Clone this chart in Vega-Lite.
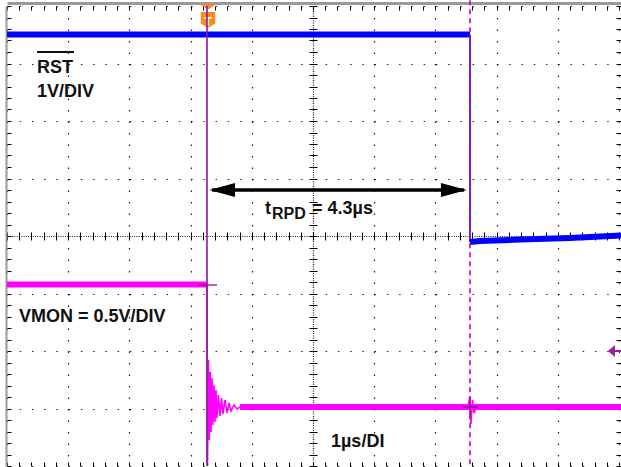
{
  "$schema": "https://vega.github.io/schema/vega-lite/v6.json",
  "width": 614,
  "height": 460,
  "autosize": {"type": "none"},
  "padding": {"left": 7, "top": 6, "right": 0, "bottom": 1},
  "background": "#ffffff",
  "config": {"view": {"stroke": null}, "font": "Liberation Sans"},
  "datasets": {
    "traces": [
      {"trace": "RST", "seg": "RST high", "t": 0, "v": 3.504},
      {"trace": "RST", "seg": "RST high", "t": 7.565, "v": 3.504},
      {"trace": "RST", "seg": "RST edge", "t": 7.565, "v": 3.504},
      {"trace": "RST", "seg": "RST edge", "t": 7.5651, "v": -0.104},
      {"trace": "RST", "seg": "RST low", "t": 7.565, "v": -0.104},
      {"trace": "RST", "seg": "RST low", "t": 7.729, "v": -0.087},
      {"trace": "RST", "seg": "RST low", "t": 8.382, "v": -0.061},
      {"trace": "RST", "seg": "RST low", "t": 9.199, "v": -0.035},
      {"trace": "RST", "seg": "RST low", "t": 10.033, "v": 0.009},
      {"trace": "VMON", "seg": "VMON high", "t": 0, "v": -0.843},
      {"trace": "VMON", "seg": "VMON high", "t": 3.268, "v": -0.843},
      {"trace": "VMON", "seg": "VMON ringing", "t": 3.268, "v": -0.843},
      {"trace": "VMON", "seg": "VMON ringing", "t": 3.276, "v": -4.07},
      {"trace": "VMON", "seg": "VMON ringing", "t": 3.292, "v": -2.157},
      {"trace": "VMON", "seg": "VMON ringing", "t": 3.305, "v": -3.548},
      {"trace": "VMON", "seg": "VMON ringing", "t": 3.32, "v": -2.365},
      {"trace": "VMON", "seg": "VMON ringing", "t": 3.333, "v": -3.409},
      {"trace": "VMON", "seg": "VMON ringing", "t": 3.35, "v": -2.47},
      {"trace": "VMON", "seg": "VMON ringing", "t": 3.366, "v": -3.287},
      {"trace": "VMON", "seg": "VMON ringing", "t": 3.382, "v": -2.591},
      {"trace": "VMON", "seg": "VMON ringing", "t": 3.399, "v": -3.235},
      {"trace": "VMON", "seg": "VMON ringing", "t": 3.415, "v": -2.678},
      {"trace": "VMON", "seg": "VMON ringing", "t": 3.431, "v": -3.165},
      {"trace": "VMON", "seg": "VMON ringing", "t": 3.456, "v": -2.765},
      {"trace": "VMON", "seg": "VMON ringing", "t": 3.48, "v": -3.13},
      {"trace": "VMON", "seg": "VMON ringing", "t": 3.505, "v": -2.817},
      {"trace": "VMON", "seg": "VMON ringing", "t": 3.529, "v": -3.096},
      {"trace": "VMON", "seg": "VMON ringing", "t": 3.562, "v": -2.852},
      {"trace": "VMON", "seg": "VMON ringing", "t": 3.595, "v": -3.078},
      {"trace": "VMON", "seg": "VMON ringing", "t": 3.627, "v": -2.904},
      {"trace": "VMON", "seg": "VMON ringing", "t": 3.66, "v": -3.043},
      {"trace": "VMON", "seg": "VMON ringing", "t": 3.709, "v": -2.939},
      {"trace": "VMON", "seg": "VMON ringing", "t": 3.758, "v": -3.009},
      {"trace": "VMON", "seg": "VMON ringing", "t": 3.807, "v": -2.974},
      {"trace": "VMON", "seg": "VMON low", "t": 3.807, "v": -2.974},
      {"trace": "VMON", "seg": "VMON low", "t": 10.033, "v": -2.974},
      {"trace": "VMON", "seg": "VMON glitch", "t": 7.533, "v": -2.974},
      {"trace": "VMON", "seg": "VMON glitch", "t": 7.565, "v": -2.783},
      {"trace": "VMON", "seg": "VMON glitch", "t": 7.582, "v": -3.27},
      {"trace": "VMON", "seg": "VMON glitch", "t": 7.606, "v": -2.852},
      {"trace": "VMON", "seg": "VMON glitch", "t": 7.631, "v": -3.078},
      {"trace": "VMON", "seg": "VMON glitch", "t": 7.68, "v": -2.939},
      {"trace": "VMON", "seg": "VMON glitch", "t": 7.729, "v": -2.974}
    ]
  },
  "resolve": {"axis": {"x": "independent", "y": "independent"}, "scale": {"shape": "independent"}},
  "layer": [
    {
      "data": {"name": "traces"},
      "transform": [{"filter": {"field": "seg", "oneOf": ["RST high", "RST low", "VMON high", "VMON low"]}}],
      "mark": {"type": "line", "strokeWidth": 6, "clip": true},
      "encoding": {
        "x": {"field": "t", "type": "quantitative", "scale": {"domain": [0, 10.033], "nice": false, "zero": false},
          "axis": {"orient": "bottom", "values": [0, 1, 2, 3, 4, 5, 6, 7, 8, 9, 10], "grid": true, "gridColor": "#000000", "gridWidth": 1.2, "gridOpacity": 0.9,
            "gridDash": {"condition": {"test": "datum.value === 5", "value": [1, 1.3]}, "value": [1.4, 10.1]},
            "ticks": false, "labels": false, "domain": false, "title": null}},
        "y": {"field": "v", "type": "quantitative", "scale": {"domain": [-4, 4], "nice": false, "zero": false},
          "axis": {"orient": "left", "values": [-4, -3, -2, -1, 0, 1, 2, 3, 4], "grid": true, "gridColor": "#000000", "gridWidth": 1.2, "gridOpacity": 0.9,
            "gridDash": {"condition": {"test": "datum.value === 0", "value": [1, 1.3]}, "value": [1.4, 10.84]},
            "ticks": false, "labels": false, "domain": false, "title": null}},
        "color": {"field": "trace", "type": "nominal", "scale": {"domain": ["RST", "VMON"], "range": ["#0000FF", "#FF00FF"]}, "legend": null},
        "detail": {"field": "seg"}
      }
    },
    {
      "data": {"name": "traces"},
      "transform": [{"filter": {"field": "seg", "oneOf": ["RST edge", "VMON ringing", "VMON glitch"]}}],
      "mark": {"type": "line", "strokeWidth": 1.6, "clip": true},
      "encoding": {
        "x": {"field": "t", "type": "quantitative", "scale": {"domain": [0, 10.033], "nice": false, "zero": false},
          "axis": {"orient": "bottom", "offset": -234, "tickCount": 50, "ticks": true, "tickSize": 8, "tickColor": "#000000", "tickWidth": 1, "grid": false, "labels": false, "domain": false, "title": null}},
        "y": {"field": "v", "type": "quantitative", "scale": {"domain": [-4, 4], "nice": false, "zero": false},
          "axis": {"orient": "left", "offset": -310, "tickCount": 40, "ticks": true, "tickSize": 8, "tickColor": "#000000", "tickWidth": 1, "grid": false, "labels": false, "domain": false, "title": null}},
        "color": {"field": "trace", "type": "nominal", "scale": {"domain": ["RST", "VMON"], "range": ["#0000FF", "#FF00FF"]}, "legend": null},
        "detail": {"field": "seg"}
      }
    },
    {
      "data": {"values": [{"name": "trigger body", "t": 3.284, "v": 3.757}, {"name": "trigger tip", "t": 3.284, "v": 3.99}]},
      "mark": {"type": "point", "filled": true, "opacity": 1, "size": 256, "color": "#FF8A1C", "strokeWidth": 0},
      "encoding": {
        "x": {"field": "t", "type": "quantitative", "scale": {"domain": [0, 10.033], "nice": false, "zero": false},
          "axis": {"orient": "bottom", "offset": -4, "tickCount": 50, "ticks": true, "tickSize": 4, "tickColor": "#000000", "tickWidth": 1, "grid": false, "labels": false, "domain": false, "title": null}},
        "y": {"field": "v", "type": "quantitative", "scale": {"domain": [-4, 4], "nice": false, "zero": false},
          "axis": {"orient": "right", "offset": -5, "tickCount": 40, "ticks": true, "tickSize": 6, "tickColor": "#000000", "tickWidth": 1, "grid": false, "labels": false, "domain": false, "title": null}},
        "shape": {"field": "name", "type": "nominal", "scale": {"domain": ["trigger body", "trigger tip"], "range": ["M-0.9,-1L0.9,-1L0.9,0.45L0,1L-0.9,0.45Z", "M-1,-0.25L1,-0.25L0,0.35Z"]}, "legend": null}
      }
    },
    {
      "data": {"values": [{"label": "T", "t": 3.284, "v": 3.72}]},
      "mark": {"type": "text", "color": "#ffffff", "fontSize": 13, "fontWeight": "bold", "align": "center", "baseline": "middle"},
      "encoding": {
        "x": {"field": "t", "type": "quantitative", "scale": {"domain": [0, 10.033], "nice": false, "zero": false},
          "axis": {"orient": "top", "offset": -4, "tickCount": 50, "ticks": true, "tickSize": 4, "tickColor": "#000000", "tickWidth": 1, "grid": false, "labels": false, "domain": false, "title": null}},
        "y": {"field": "v", "type": "quantitative", "scale": {"domain": [-4, 4], "nice": false, "zero": false},
          "axis": {"orient": "left", "offset": -4, "tickCount": 40, "ticks": true, "tickSize": 4, "tickColor": "#000000", "tickWidth": 1, "grid": false, "labels": false, "domain": false, "title": null}},
        "text": {"field": "label"}
      }
    },
    {
      "data": {"values": [{"cursor": "trigger", "t": 3.268, "v": 4.0, "v2": -4.0}]},
      "mark": {"type": "rule", "color": "#8A1A9A", "strokeWidth": 1.6},
      "encoding": {
        "x": {"field": "t", "type": "quantitative", "scale": {"domain": [0, 10.033], "nice": false, "zero": false},
          "axis": {"orient": "top", "offset": 3, "domain": true, "domainColor": "#9a9a9a", "domainWidth": 3, "ticks": false, "grid": false, "labels": false, "title": null}},
        "y": {"field": "v", "type": "quantitative", "scale": {"domain": [-4, 4], "nice": false, "zero": false},
          "axis": {"orient": "left", "offset": 1, "domain": true, "domainColor": "#9a9a9a", "domainWidth": 2, "ticks": false, "grid": false, "labels": false, "title": null}},
        "y2": {"field": "v2"}
      }
    },
    {
      "data": {"values": [{"cursor": "tRPD end", "t": 7.565, "v": 4.1, "v2": -4.0}]},
      "mark": {"type": "rule", "color": "#C800C8", "strokeWidth": 1.6, "strokeDash": [5, 4]},
      "encoding": {
        "x": {"field": "t", "type": "quantitative", "scale": {"domain": [0, 10.033], "nice": false, "zero": false}, "axis": null},
        "y": {"field": "v", "type": "quantitative", "scale": {"domain": [-4, 4], "nice": false, "zero": false}, "axis": null},
        "y2": {"field": "v2"}
      }
    },
    {
      "data": {"values": [
        {"mark": "trigger level", "t": 3.121, "t2": 3.431, "v": -0.852, "v2": -0.852},
        {"mark": "cursor cross h", "t": 7.435, "t2": 7.696, "v": -2.974, "v2": -2.974},
        {"mark": "cursor cross v", "t": 7.565, "t2": 7.565, "v": -2.887, "v2": -3.113}
      ]},
      "mark": {"type": "rule", "color": "#7A007A", "strokeWidth": 1.2},
      "encoding": {
        "x": {"field": "t", "type": "quantitative", "scale": {"domain": [0, 10.033], "nice": false, "zero": false}, "axis": null},
        "x2": {"field": "t2"},
        "y": {"field": "v", "type": "quantitative", "scale": {"domain": [-4, 4], "nice": false, "zero": false}, "axis": null},
        "y2": {"field": "v2"}
      }
    },
    {
      "data": {"values": [{"what": "tRPD arrow", "t": 3.35, "t2": 7.47, "v": 0.8}]},
      "mark": {"type": "rule", "color": "#000000", "strokeWidth": 3.5},
      "encoding": {
        "x": {"field": "t", "type": "quantitative", "scale": {"domain": [0, 10.033], "nice": false, "zero": false}, "axis": null},
        "x2": {"field": "t2"},
        "y": {"field": "v", "type": "quantitative", "scale": {"domain": [-4, 4], "nice": false, "zero": false}, "axis": null}
      }
    },
    {
      "data": {"values": [{"end": "left", "t": 3.306, "v": 0.8}, {"end": "right", "t": 7.511, "v": 0.8}]},
      "mark": {"type": "point", "filled": true, "opacity": 1, "size": 660, "color": "#000000", "strokeWidth": 0},
      "encoding": {
        "x": {"field": "t", "type": "quantitative", "scale": {"domain": [0, 10.033], "nice": false, "zero": false}, "axis": null},
        "y": {"field": "v", "type": "quantitative", "scale": {"domain": [-4, 4], "nice": false, "zero": false}, "axis": null},
        "shape": {"field": "end", "type": "nominal", "scale": {"domain": ["left", "right"], "range": ["M0,0L2,-0.55L2,0.55Z", "M0,0L-2,-0.55L-2,0.55Z"]}, "legend": null}
      }
    },
    {
      "data": {"values": [{"what": "trigger level marker", "t": 9.82, "v": -2.0}]},
      "mark": {"type": "point", "filled": true, "opacity": 1, "size": 49, "color": "#A01AA0", "strokeWidth": 0, "shape": "M0,0L2,-1.7L2,1.7Z"},
      "encoding": {
        "x": {"field": "t", "type": "quantitative", "scale": {"domain": [0, 10.033], "nice": false, "zero": false}, "axis": null},
        "y": {"field": "v", "type": "quantitative", "scale": {"domain": [-4, 4], "nice": false, "zero": false}, "axis": null}
      }
    },
    {
      "data": {"values": [{"what": "trigger level stem", "t": 9.9, "t2": 10.033, "v": -2.0}]},
      "mark": {"type": "rule", "color": "#A01AA0", "strokeWidth": 2},
      "encoding": {
        "x": {"field": "t", "type": "quantitative", "scale": {"domain": [0, 10.033], "nice": false, "zero": false}, "axis": null},
        "x2": {"field": "t2"},
        "y": {"field": "v", "type": "quantitative", "scale": {"domain": [-4, 4], "nice": false, "zero": false}, "axis": null}
      }
    },
    {
      "data": {"values": [{"what": "RST overline", "t": 0.49, "t2": 1.095, "v": 3.2}]},
      "mark": {"type": "rule", "color": "#111111", "strokeWidth": 2},
      "encoding": {
        "x": {"field": "t", "type": "quantitative", "scale": {"domain": [0, 10.033], "nice": false, "zero": false}, "axis": null},
        "x2": {"field": "t2"},
        "y": {"field": "v", "type": "quantitative", "scale": {"domain": [-4, 4], "nice": false, "zero": false}, "axis": null}
      }
    },
    {
      "data": {"values": [
        {"label": "RST", "t": 0.49, "v": 2.835},
        {"label": "1V/DIV", "t": 0.49, "v": 2.417},
        {"label": "VMON = 0.5V/DIV", "t": 0.196, "v": -1.496},
        {"label": "t", "t": 4.216, "v": 0.375},
        {"label": "= 4.3µs", "t": 4.984, "v": 0.375},
        {"label": "1µs/DI", "t": 5.294, "v": -3.67}
      ]},
      "mark": {"type": "text", "color": "#111111", "fontSize": 18, "fontWeight": "bold", "font": "Liberation Sans", "align": "left", "baseline": "alphabetic"},
      "encoding": {
        "x": {"field": "t", "type": "quantitative", "scale": {"domain": [0, 10.033], "nice": false, "zero": false}, "axis": null},
        "y": {"field": "v", "type": "quantitative", "scale": {"domain": [-4, 4], "nice": false, "zero": false}, "axis": null},
        "text": {"field": "label"}
      }
    },
    {
      "data": {"values": [{"label": "RPD", "t": 4.33, "v": 0.296}]},
      "mark": {"type": "text", "color": "#111111", "fontSize": 16, "fontWeight": "bold", "font": "Liberation Sans", "align": "left", "baseline": "alphabetic"},
      "encoding": {
        "x": {"field": "t", "type": "quantitative", "scale": {"domain": [0, 10.033], "nice": false, "zero": false}, "axis": null},
        "y": {"field": "v", "type": "quantitative", "scale": {"domain": [-4, 4], "nice": false, "zero": false}, "axis": null},
        "text": {"field": "label"}
      }
    }
  ]
}
